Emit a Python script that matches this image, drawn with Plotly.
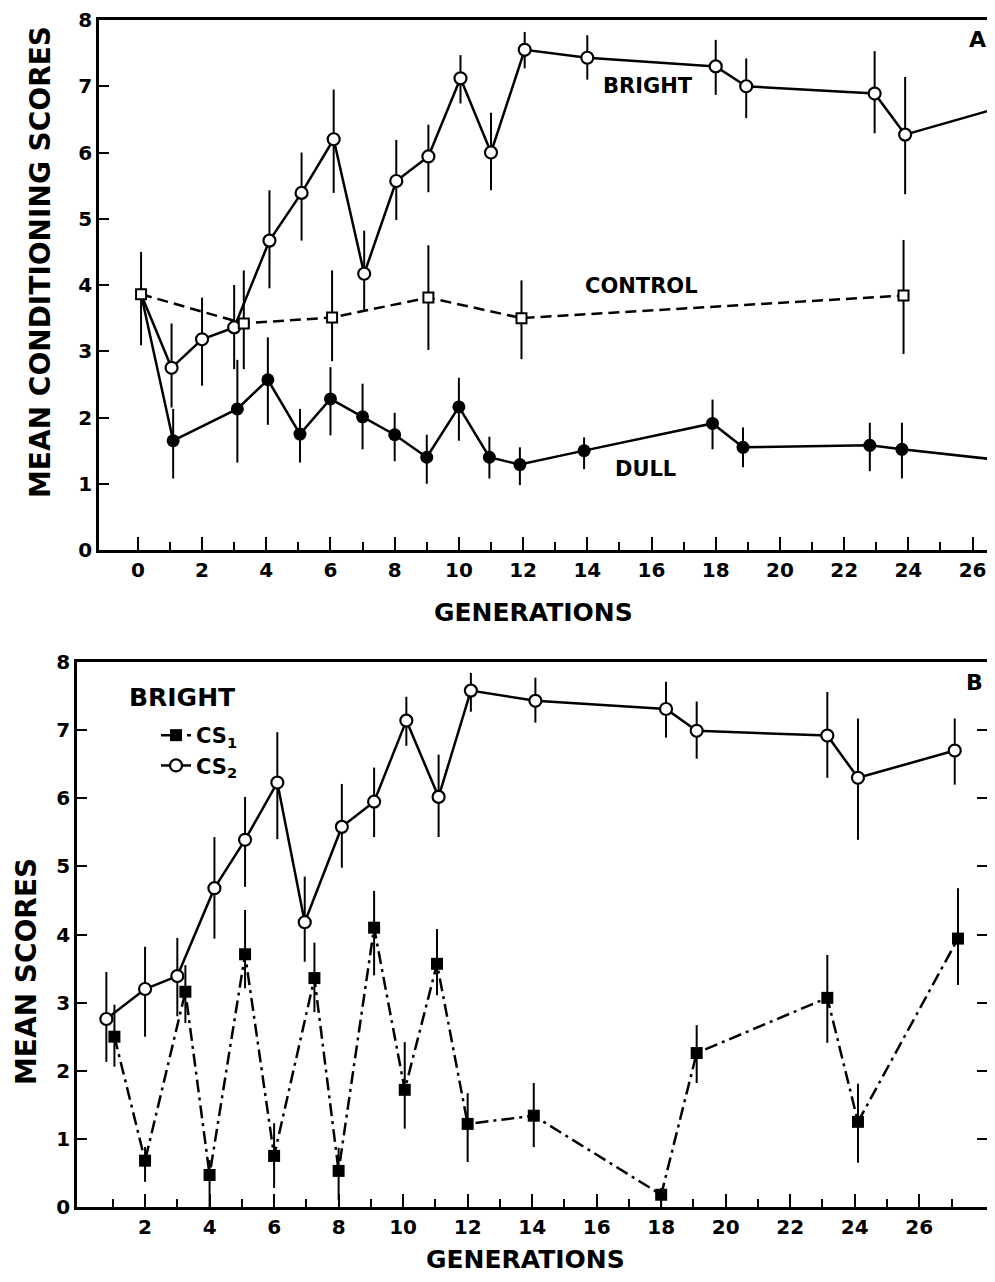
import plotly.graph_objects as go

# ---------------- Panel A data ----------------
bright_x = [0.1, 1.05, 2.0, 3.0, 4.1, 5.1, 6.1, 7.05, 8.05, 9.05, 10.05, 11.0, 12.05, 14.0, 18.0, 18.95, 22.95, 23.9, 27.0]
bright_y = [3.86, 2.75, 3.18, 3.36, 4.67, 5.39, 6.20, 4.17, 5.57, 5.94, 7.12, 6.00, 7.55, 7.43, 7.30, 7.00, 6.89, 6.27, 6.70]
bright_hi = [3.86, 3.42, 3.81, 4.00, 5.43, 6.00, 6.95, 4.82, 6.19, 6.42, 7.47, 6.60, 7.82, 7.77, 7.70, 7.42, 7.53, 7.14, 7.17]
bright_lo = [3.86, 2.15, 2.48, 2.73, 3.95, 4.67, 5.39, 3.60, 4.98, 5.40, 6.74, 5.43, 7.27, 7.10, 6.87, 6.52, 6.29, 5.37, 6.20]

control_x = [0.1, 3.3, 6.05, 9.05, 11.95, 23.85]
control_y = [3.86, 3.42, 3.51, 3.81, 3.50, 3.84]
control_hi = [4.50, 4.22, 4.22, 4.60, 4.07, 4.68]
control_lo = [3.09, 2.73, 2.85, 3.02, 2.88, 2.96]

dull_x = [0.1, 1.1, 3.1, 4.05, 5.05, 6.0, 7.0, 8.0, 9.0, 10.0, 10.95, 11.9, 13.9, 17.9, 18.85, 22.8, 23.8, 27.0]
dull_y = [3.86, 1.65, 2.13, 2.57, 1.75, 2.28, 2.01, 1.74, 1.40, 2.16, 1.40, 1.29, 1.50, 1.91, 1.55, 1.58, 1.52, 1.35]
dull_hi = [3.86, 2.13, 2.87, 3.21, 2.13, 2.76, 2.51, 2.07, 1.74, 2.60, 1.71, 1.55, 1.70, 2.27, 1.85, 1.92, 1.92, 1.35]
dull_lo = [3.86, 1.08, 1.32, 1.89, 1.32, 1.73, 1.52, 1.34, 1.00, 1.65, 1.08, 0.98, 1.22, 1.52, 1.25, 1.19, 1.08, 1.35]

# ---------------- Panel B data ----------------
cs2_x = [0.8, 2.0, 3.0, 4.15, 5.1, 6.1, 6.95, 8.1, 9.1, 10.1, 11.1, 12.1, 14.1, 18.15, 19.1, 23.15, 24.1, 27.1]
cs2_y = [2.76, 3.20, 3.39, 4.68, 5.39, 6.23, 4.18, 5.58, 5.95, 7.14, 6.02, 7.58, 7.43, 7.31, 6.99, 6.92, 6.30, 6.70]
cs2_hi = [3.45, 3.82, 3.95, 5.43, 6.02, 6.97, 4.85, 6.21, 6.45, 7.49, 6.64, 7.84, 7.77, 7.71, 7.42, 7.56, 7.17, 7.17]
cs2_lo = [2.13, 2.50, 2.80, 3.94, 4.70, 5.40, 3.60, 4.98, 5.43, 6.77, 5.43, 7.27, 7.11, 6.89, 6.58, 6.30, 5.39, 6.20]

cs1_x = [1.05, 2.0, 3.25, 4.0, 5.1, 6.0, 7.25, 8.0, 9.1, 10.05, 11.05, 12.0, 14.05, 18.0, 19.1, 23.15, 24.1, 27.2]
cs1_y = [2.50, 0.68, 3.16, 0.47, 3.71, 0.75, 3.36, 0.53, 4.10, 1.72, 3.57, 1.22, 1.34, 0.18, 2.26, 3.07, 1.25, 3.94]
cs1_hi = [2.97, 0.88, 3.55, 0.69, 4.36, 1.23, 3.88, 0.87, 4.64, 2.42, 4.08, 1.67, 1.82, 0.28, 2.67, 3.70, 1.81, 4.68]
cs1_lo = [2.06, 0.37, 2.70, 0.00, 3.21, 0.28, 2.86, 0.10, 3.40, 1.15, 3.11, 0.66, 0.88, 0.00, 1.82, 2.41, 0.65, 3.26]

y_ticks = list(range(0, 9))
xa_major = list(range(0, 27, 2))
xa_minor = list(range(1, 27, 2))
xb_major = list(range(2, 27, 2))
xb_minor = list(range(1, 28, 2))

FONT = "DejaVu Sans"
OFF = 8                      # default page body margin
W, H = 995 - 2 * OFF, 1282 - 2 * OFF


def px(p):
    return (p - OFF) / W


def py(p):
    return 1 - (p - OFF) / H


def err(y, hi, lo):
    return dict(type="data", symmetric=False,
                array=[h - v for h, v in zip(hi, y)],
                arrayminus=[v - l for v, l in zip(y, lo)],
                color="black", thickness=2, width=0)


fig = go.Figure()

# ---- Panel A: connecting lines (all start at the gen-0 control point)
fig.add_trace(go.Scatter(x=control_x, y=control_y, mode="lines", xaxis="x", yaxis="y",
                         line=dict(color="black", width=2.5, dash="11px,6px"),
                         showlegend=False, hoverinfo="skip"))
fig.add_trace(go.Scatter(x=dull_x, y=dull_y, mode="lines", xaxis="x", yaxis="y",
                         line=dict(color="black", width=2.5), showlegend=False, hoverinfo="skip"))
fig.add_trace(go.Scatter(x=bright_x, y=bright_y, mode="lines", xaxis="x", yaxis="y",
                         line=dict(color="black", width=2.5), showlegend=False, hoverinfo="skip"))
# ---- Panel A: markers with error bars
fig.add_trace(go.Scatter(
    x=dull_x[1:], y=dull_y[1:], mode="markers", xaxis="x", yaxis="y",
    marker=dict(symbol="circle", size=13, color="black"),
    error_y=err(dull_y[1:], dull_hi[1:], dull_lo[1:]), showlegend=False))
fig.add_trace(go.Scatter(
    x=bright_x[1:], y=bright_y[1:], mode="markers", xaxis="x", yaxis="y",
    marker=dict(symbol="circle", size=12, color="white", line=dict(color="black", width=2.2)),
    error_y=err(bright_y[1:], bright_hi[1:], bright_lo[1:]), showlegend=False))
fig.add_trace(go.Scatter(
    x=control_x, y=control_y, mode="markers", xaxis="x", yaxis="y",
    marker=dict(symbol="square", size=10, color="white", line=dict(color="black", width=2)),
    error_y=err(control_y, control_hi, control_lo), showlegend=False))

# ---- Panel B
fig.add_trace(go.Scatter(
    x=cs1_x, y=cs1_y, mode="lines+markers", xaxis="x2", yaxis="y2", name="CS<sub>1</sub>",
    line=dict(color="black", width=2.5, dash="13px,5px,3px,5px"),
    marker=dict(symbol="square", size=12, color="black"),
    error_y=err(cs1_y, cs1_hi, cs1_lo)))
fig.add_trace(go.Scatter(
    x=cs2_x, y=cs2_y, mode="lines+markers", xaxis="x2", yaxis="y2", name="CS<sub>2</sub>",
    line=dict(color="black", width=2.5),
    marker=dict(symbol="circle", size=12, color="white", line=dict(color="black", width=2.2)),
    error_y=err(cs2_y, cs2_hi, cs2_lo)))

tickfont = dict(family=FONT, size=20, color="black", weight="bold")
common = dict(showline=True, linecolor="black", linewidth=2.5, ticks="inside",
              tickcolor="black", tickwidth=2, showgrid=False, zeroline=False,
              tickfont=tickfont, automargin=False, ticklabelstandoff=0,
              ticklabeloverflow="allow")

fig.update_layout(
    template="none",
    width=W, height=H, margin=dict(l=0, r=0, t=0, b=0, autoexpand=False),
    paper_bgcolor="white", plot_bgcolor="white",
    xaxis=dict(domain=[px(99), 1.0], range=[-1.21, 26.45], anchor="y", mirror=True,
               tickmode="array", tickvals=xa_major, ticklen=13,
               minor=dict(tickmode="array", tickvals=xa_minor, ticks="inside", ticklen=8,
                          tickwidth=2, tickcolor="black", showgrid=False),
               **common),
    yaxis=dict(domain=[py(550), py(20)], range=[0, 8], anchor="x",
               tickmode="array", tickvals=y_ticks, ticklen=10, **common),
    xaxis2=dict(domain=[px(77), 1.0], range=[-0.11, 28.1], anchor="y2", mirror=True,
                tickmode="array", tickvals=xb_major, ticklen=13,
                minor=dict(tickmode="array", tickvals=xb_minor, ticks="inside", ticklen=8,
                           tickwidth=2, tickcolor="black", showgrid=False),
                **common),
    yaxis2=dict(domain=[py(1207), py(662)], range=[0, 8], anchor="x2",
                mirror="ticks", tickmode="array", tickvals=y_ticks, ticklen=10, **common),
    legend=dict(x=px(156), y=py(715), xanchor="left", yanchor="top",
                bgcolor="rgba(0,0,0,0)", borderwidth=0,
                font=dict(family=FONT, size=21, color="black", weight="bold")),
)


def ann(text, x, y, size=21, angle=0, xref="paper", yref="paper"):
    return dict(text=text, x=x, y=y, xref=xref, yref=yref, showarrow=False,
                xanchor="center", yanchor="middle", textangle=angle,
                font=dict(family=FONT, size=size, color="black", weight="bold"))


annotations = [
    ann("BRIGHT", 15.9, 7.01, xref="x", yref="y"),
    ann("CONTROL", 15.7, 3.98, xref="x", yref="y"),
    ann("DULL", 15.8, 1.23, xref="x", yref="y"),
    ann("A", px(977), py(40), size=22),
    ann("B", px(974), py(682), size=22),
    ann("BRIGHT", px(182), py(697), size=25),
    ann("GENERATIONS", px(533), py(612), size=25),
    ann("GENERATIONS", px(525), py(1259), size=25),
    ann("MEAN CONDITIONING SCORES", px(40), py(262), size=28, angle=-90),
    ann("MEAN SCORES", px(26), py(972), size=28, angle=-90),
]
fig.update_layout(annotations=annotations)

fig.write_html("out.html")
